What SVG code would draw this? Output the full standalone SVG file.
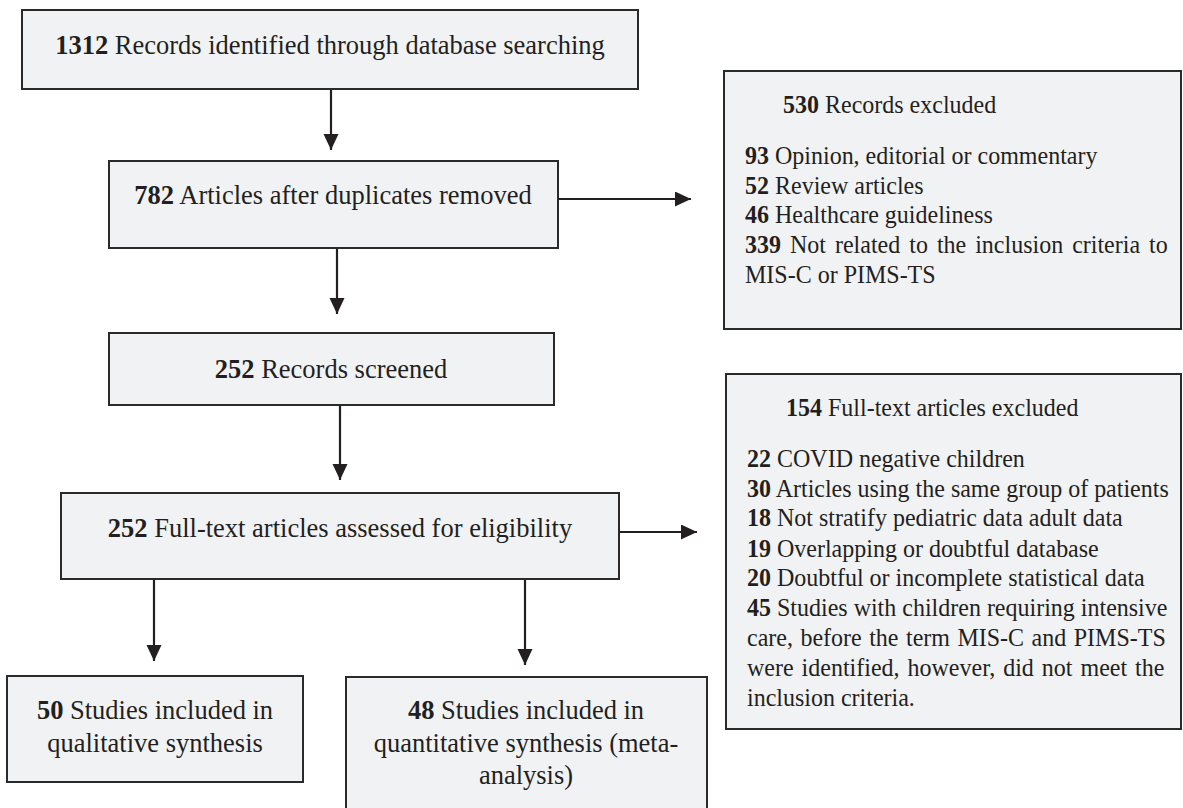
<svg xmlns="http://www.w3.org/2000/svg" width="1183" height="808" viewBox="0 0 1183 808">
<style>
.box{fill:#f1f2f4;stroke:#2b2a2a;stroke-width:2}
.t{font-family:"Liberation Serif","Times New Roman",serif;fill:#231f20}
.m{font-size:26.5px}
.s{font-size:24px}
.b{font-weight:bold}
.c{text-anchor:middle}
.ln{stroke:#231f20;stroke-width:2.2;fill:none}
</style>
<defs>
<marker id="ah" markerUnits="userSpaceOnUse" markerWidth="18" markerHeight="16" refX="16" refY="7.5" orient="auto">
<path d="M0,0 L16,7.5 L0,15 Z" fill="#231f20"/>
</marker>
</defs>
<rect width="1183" height="808" fill="#ffffff"/>
<g id="connectors">
<line class="ln" x1="331" y1="89" x2="331" y2="150" marker-end="url(#ah)"/>
<line class="ln" x1="337" y1="248" x2="337" y2="314" marker-end="url(#ah)"/>
<line class="ln" x1="340" y1="405" x2="340" y2="480" marker-end="url(#ah)"/>
<line class="ln" x1="154" y1="579" x2="154" y2="661" marker-end="url(#ah)"/>
<line class="ln" x1="525" y1="579" x2="525" y2="665" marker-end="url(#ah)"/>
<line class="ln" x1="558" y1="199" x2="691" y2="199" marker-end="url(#ah)"/>
<line class="ln" x1="619" y1="532" x2="697" y2="532" marker-end="url(#ah)"/>
</g>
<g id="identified">
<rect class="box" x="22" y="10" width="616" height="79"/>
<text class="t m c" transform="translate(330,54) scale(1,1.07)"><tspan class="b">1312</tspan> Records identified through database searching</text>
</g>
<g id="duplicates">
<rect class="box" x="109" y="161" width="449" height="87"/>
<text class="t m c" transform="translate(333,204) scale(1,1.07)"><tspan class="b">782</tspan> Articles after duplicates removed</text>
</g>
<g id="screened">
<rect class="box" x="109" y="333" width="445" height="72"/>
<text class="t m c" transform="translate(331,378) scale(1,1.07)"><tspan class="b">252</tspan> Records screened</text>
</g>
<g id="fulltext">
<rect class="box" x="61" y="493" width="558" height="86"/>
<text class="t m c" transform="translate(340,537) scale(1,1.07)"><tspan class="b">252</tspan> Full-text articles assessed for eligibility</text>
</g>
<g id="records-excluded">
<rect class="box" x="724" y="71" width="457" height="258"/>
<text class="t s" transform="translate(783,113) scale(1,1.07)"><tspan class="b">530</tspan> Records excluded</text>
<text class="t s" transform="translate(745,164) scale(1,1.07)"><tspan class="b">93</tspan> Opinion, editorial or commentary</text>
<text class="t s" transform="translate(745,194) scale(1,1.07)"><tspan class="b">52</tspan> Review articles</text>
<text class="t s" transform="translate(745,223) scale(1,1.07)"><tspan class="b">46</tspan> Healthcare guideliness</text>
<text class="t s" transform="translate(745,253) scale(1,1.07)" word-spacing="3"><tspan class="b">339</tspan> Not related to the inclusion criteria to</text>
<text class="t s" transform="translate(745,283) scale(1,1.07)">MIS-C or PIMS-TS</text>
</g>
<g id="fulltext-excluded">
<rect class="box" x="726" y="374" width="455" height="355"/>
<text class="t s" transform="translate(786,416) scale(1,1.07)"><tspan class="b">154</tspan> Full-text articles excluded</text>
<text class="t s" transform="translate(747,467) scale(1,1.07)"><tspan class="b">22</tspan> COVID negative children</text>
<text class="t s" transform="translate(747,497) scale(1,1.07)"><tspan class="b">30</tspan> Articles using the same group of patients</text>
<text class="t s" transform="translate(747,526) scale(1,1.07)"><tspan class="b">18</tspan> Not stratify pediatric data adult data</text>
<text class="t s" transform="translate(747,557) scale(1,1.07)"><tspan class="b">19</tspan> Overlapping or doubtful database</text>
<text class="t s" transform="translate(747,586) scale(1,1.07)"><tspan class="b">20</tspan> Doubtful or incomplete statistical data</text>
<text class="t s" transform="translate(747,616) scale(1,1.07)"><tspan class="b">45</tspan> Studies with children requiring intensive</text>
<text class="t s" transform="translate(747,646) scale(1,1.07)" word-spacing="1.5">care, before the term MIS-C and PIMS-TS</text>
<text class="t s" transform="translate(747,676) scale(1,1.07)" word-spacing="2">were identified, however, did not meet the</text>
<text class="t s" transform="translate(747,706) scale(1,1.07)">inclusion criteria.</text>
</g>
<g id="qualitative">
<rect class="box" x="7" y="676" width="296" height="106"/>
<text class="t m c" transform="translate(155,719) scale(1,1.07)"><tspan class="b">50</tspan> Studies included in</text>
<text class="t m c" transform="translate(155,752) scale(1,1.07)">qualitative synthesis</text>
</g>
<g id="quantitative">
<rect class="box" x="346" y="677" width="361" height="140"/>
<text class="t m c" transform="translate(526,719) scale(1,1.07)"><tspan class="b">48</tspan> Studies included in</text>
<text class="t m c" transform="translate(526,752) scale(1,1.07)">quantitative synthesis (meta-</text>
<text class="t m c" transform="translate(526,784) scale(1,1.07)">analysis)</text>
</g>
</svg>
